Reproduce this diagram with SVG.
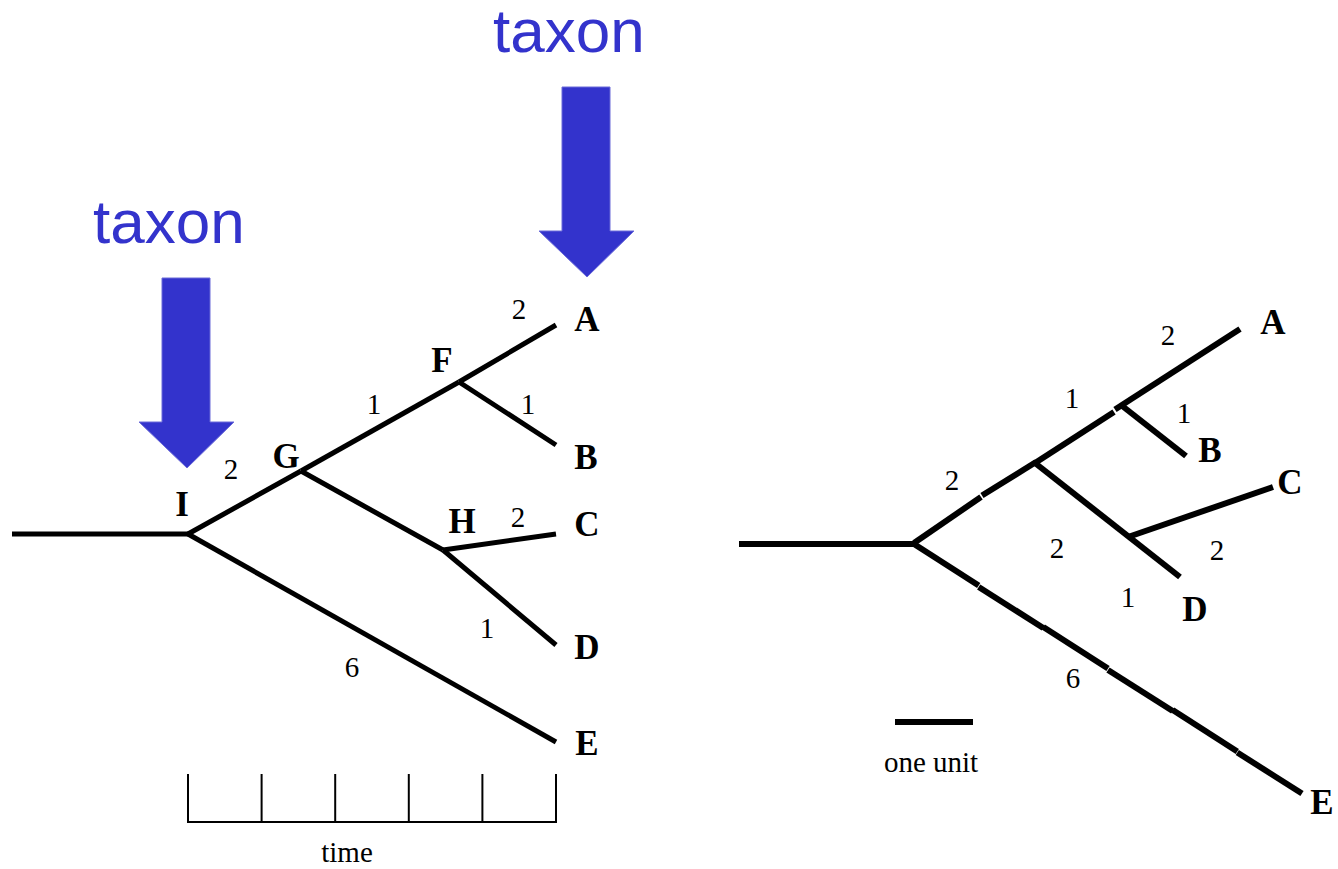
<svg xmlns="http://www.w3.org/2000/svg" width="1338" height="869" viewBox="0 0 1338 869">
<style>
.br{stroke:#000;stroke-width:5;fill:none;stroke-linecap:butt;stroke-linejoin:miter}
.br2{stroke:#000;stroke-width:6;fill:none;stroke-linecap:butt}
.ax{stroke:#000;stroke-width:2;fill:none}
.lab{font-family:"Liberation Serif","Times New Roman",serif;font-weight:bold;font-size:35px;fill:#000;text-anchor:middle}
.num{font-family:"Liberation Serif","Times New Roman",serif;font-size:29px;fill:#000;text-anchor:middle}
.cap{font-family:"Liberation Serif","Times New Roman",serif;font-size:29px;fill:#000;text-anchor:middle}
.tax{font-family:"Liberation Sans",Arial,sans-serif;font-size:62px;fill:#3333cc}
.arr{fill:#3333cc;stroke:#6a6ad8;stroke-width:1}
</style>
<rect width="1338" height="869" fill="#fff"/>

<g id="taxon-right">
<text class="tax" x="493" y="52">taxon</text>
<polygon class="arr" points="562,87 610,87 610,231 634,231 587,277 539,231 562,231"/>
</g>
<g id="taxon-left">
<text class="tax" x="93" y="243">taxon</text>
<polygon class="arr" points="162,278 210,278 210,422 234,422 187,468 139,422 162,422"/>
</g>

<g id="connectors-left">
<line class="br" x1="12" y1="534" x2="190" y2="534"/>
<line class="br" x1="188" y1="534" x2="301" y2="471"/>
<line class="br" x1="301" y1="471" x2="459" y2="382"/>
<line class="br" x1="459" y1="382" x2="556" y2="325"/>
<line class="br" x1="459" y1="382" x2="556" y2="445"/>
<line class="br" x1="301" y1="471" x2="443" y2="550"/>
<line class="br" x1="443" y1="550" x2="556" y2="534"/>
<line class="br" x1="443" y1="550" x2="556" y2="645"/>
<line class="br" x1="188" y1="534" x2="556" y2="742"/>
</g>

<g id="time-axis">
<polyline class="ax" points="188,774 188,822 556,822 556,774"/>
<line class="ax" x1="261.6" y1="774" x2="261.6" y2="822"/>
<line class="ax" x1="335.2" y1="774" x2="335.2" y2="822"/>
<line class="ax" x1="408.8" y1="774" x2="408.8" y2="822"/>
<line class="ax" x1="482.4" y1="774" x2="482.4" y2="822"/>
<text class="cap" x="347" y="862">time</text>
</g>

<g id="node-A-left"><text class="lab" x="587" y="331">A</text></g>
<g id="node-B-left"><text class="lab" x="586" y="469">B</text></g>
<g id="node-C-left"><text class="lab" x="587" y="536">C</text></g>
<g id="node-D-left"><text class="lab" x="587" y="659">D</text></g>
<g id="node-E-left"><text class="lab" x="587" y="755">E</text></g>
<g id="node-F-left"><text class="lab" x="442" y="372">F</text></g>
<g id="node-G-left"><text class="lab" x="286" y="468">G</text></g>
<g id="node-H-left"><text class="lab" x="462" y="533">H</text></g>
<g id="node-I-left"><text class="lab" x="182" y="516">I</text></g>

<g id="lengths-left">
<text class="num" x="519" y="319">2</text>
<text class="num" x="374" y="414">1</text>
<text class="num" x="528" y="414">1</text>
<text class="num" x="231" y="479">2</text>
<text class="num" x="518" y="527">2</text>
<text class="num" x="487" y="638">1</text>
<text class="num" x="352" y="677">6</text>
</g>

<g id="connectors-right">
<line class="br2" x1="739" y1="544" x2="916" y2="544"/>
<line class="br2" x1="914" y1="543" x2="981" y2="497"/>
<line class="br2" x1="982" y1="495.5" x2="1036" y2="462"/>
<line class="br2" x1="1035" y1="463" x2="1114" y2="412"/>
<line class="br2" x1="1115" y1="409.5" x2="1240" y2="329"/>
<line class="br2" x1="1121" y1="405" x2="1186" y2="456"/>
<line class="br2" x1="1035" y1="463" x2="1180" y2="577"/>
<line class="br2" x1="1128" y1="537" x2="1273" y2="487"/>
<line class="br2" x1="914" y1="544" x2="978.7" y2="585.5"/>
<line class="br2" x1="978.7" y1="587" x2="1043.3" y2="628"/>
<line class="br2" x1="1043.3" y1="627" x2="1108" y2="668.5"/>
<line class="br2" x1="1108" y1="670" x2="1172.7" y2="711"/>
<line class="br2" x1="1172.7" y1="710" x2="1237.3" y2="751.5"/>
<line class="br2" x1="1237.3" y1="752.5" x2="1302" y2="793.5"/>
</g>

<g id="node-A-right"><text class="lab" x="1273" y="334">A</text></g>
<g id="node-B-right"><text class="lab" x="1210" y="462">B</text></g>
<g id="node-C-right"><text class="lab" x="1290" y="494">C</text></g>
<g id="node-D-right"><text class="lab" x="1195" y="621">D</text></g>
<g id="node-E-right"><text class="lab" x="1322" y="814">E</text></g>

<g id="lengths-right">
<text class="num" x="952" y="490">2</text>
<text class="num" x="1072" y="408">1</text>
<text class="num" x="1168" y="345">2</text>
<text class="num" x="1184" y="423">1</text>
<text class="num" x="1057" y="558">2</text>
<text class="num" x="1217" y="560">2</text>
<text class="num" x="1128" y="607">1</text>
<text class="num" x="1073" y="688">6</text>
</g>

<g id="scale-bar">
<line class="br2" x1="895" y1="722" x2="973" y2="722"/>
<text class="cap" x="931" y="772">one unit</text>
</g>
</svg>
